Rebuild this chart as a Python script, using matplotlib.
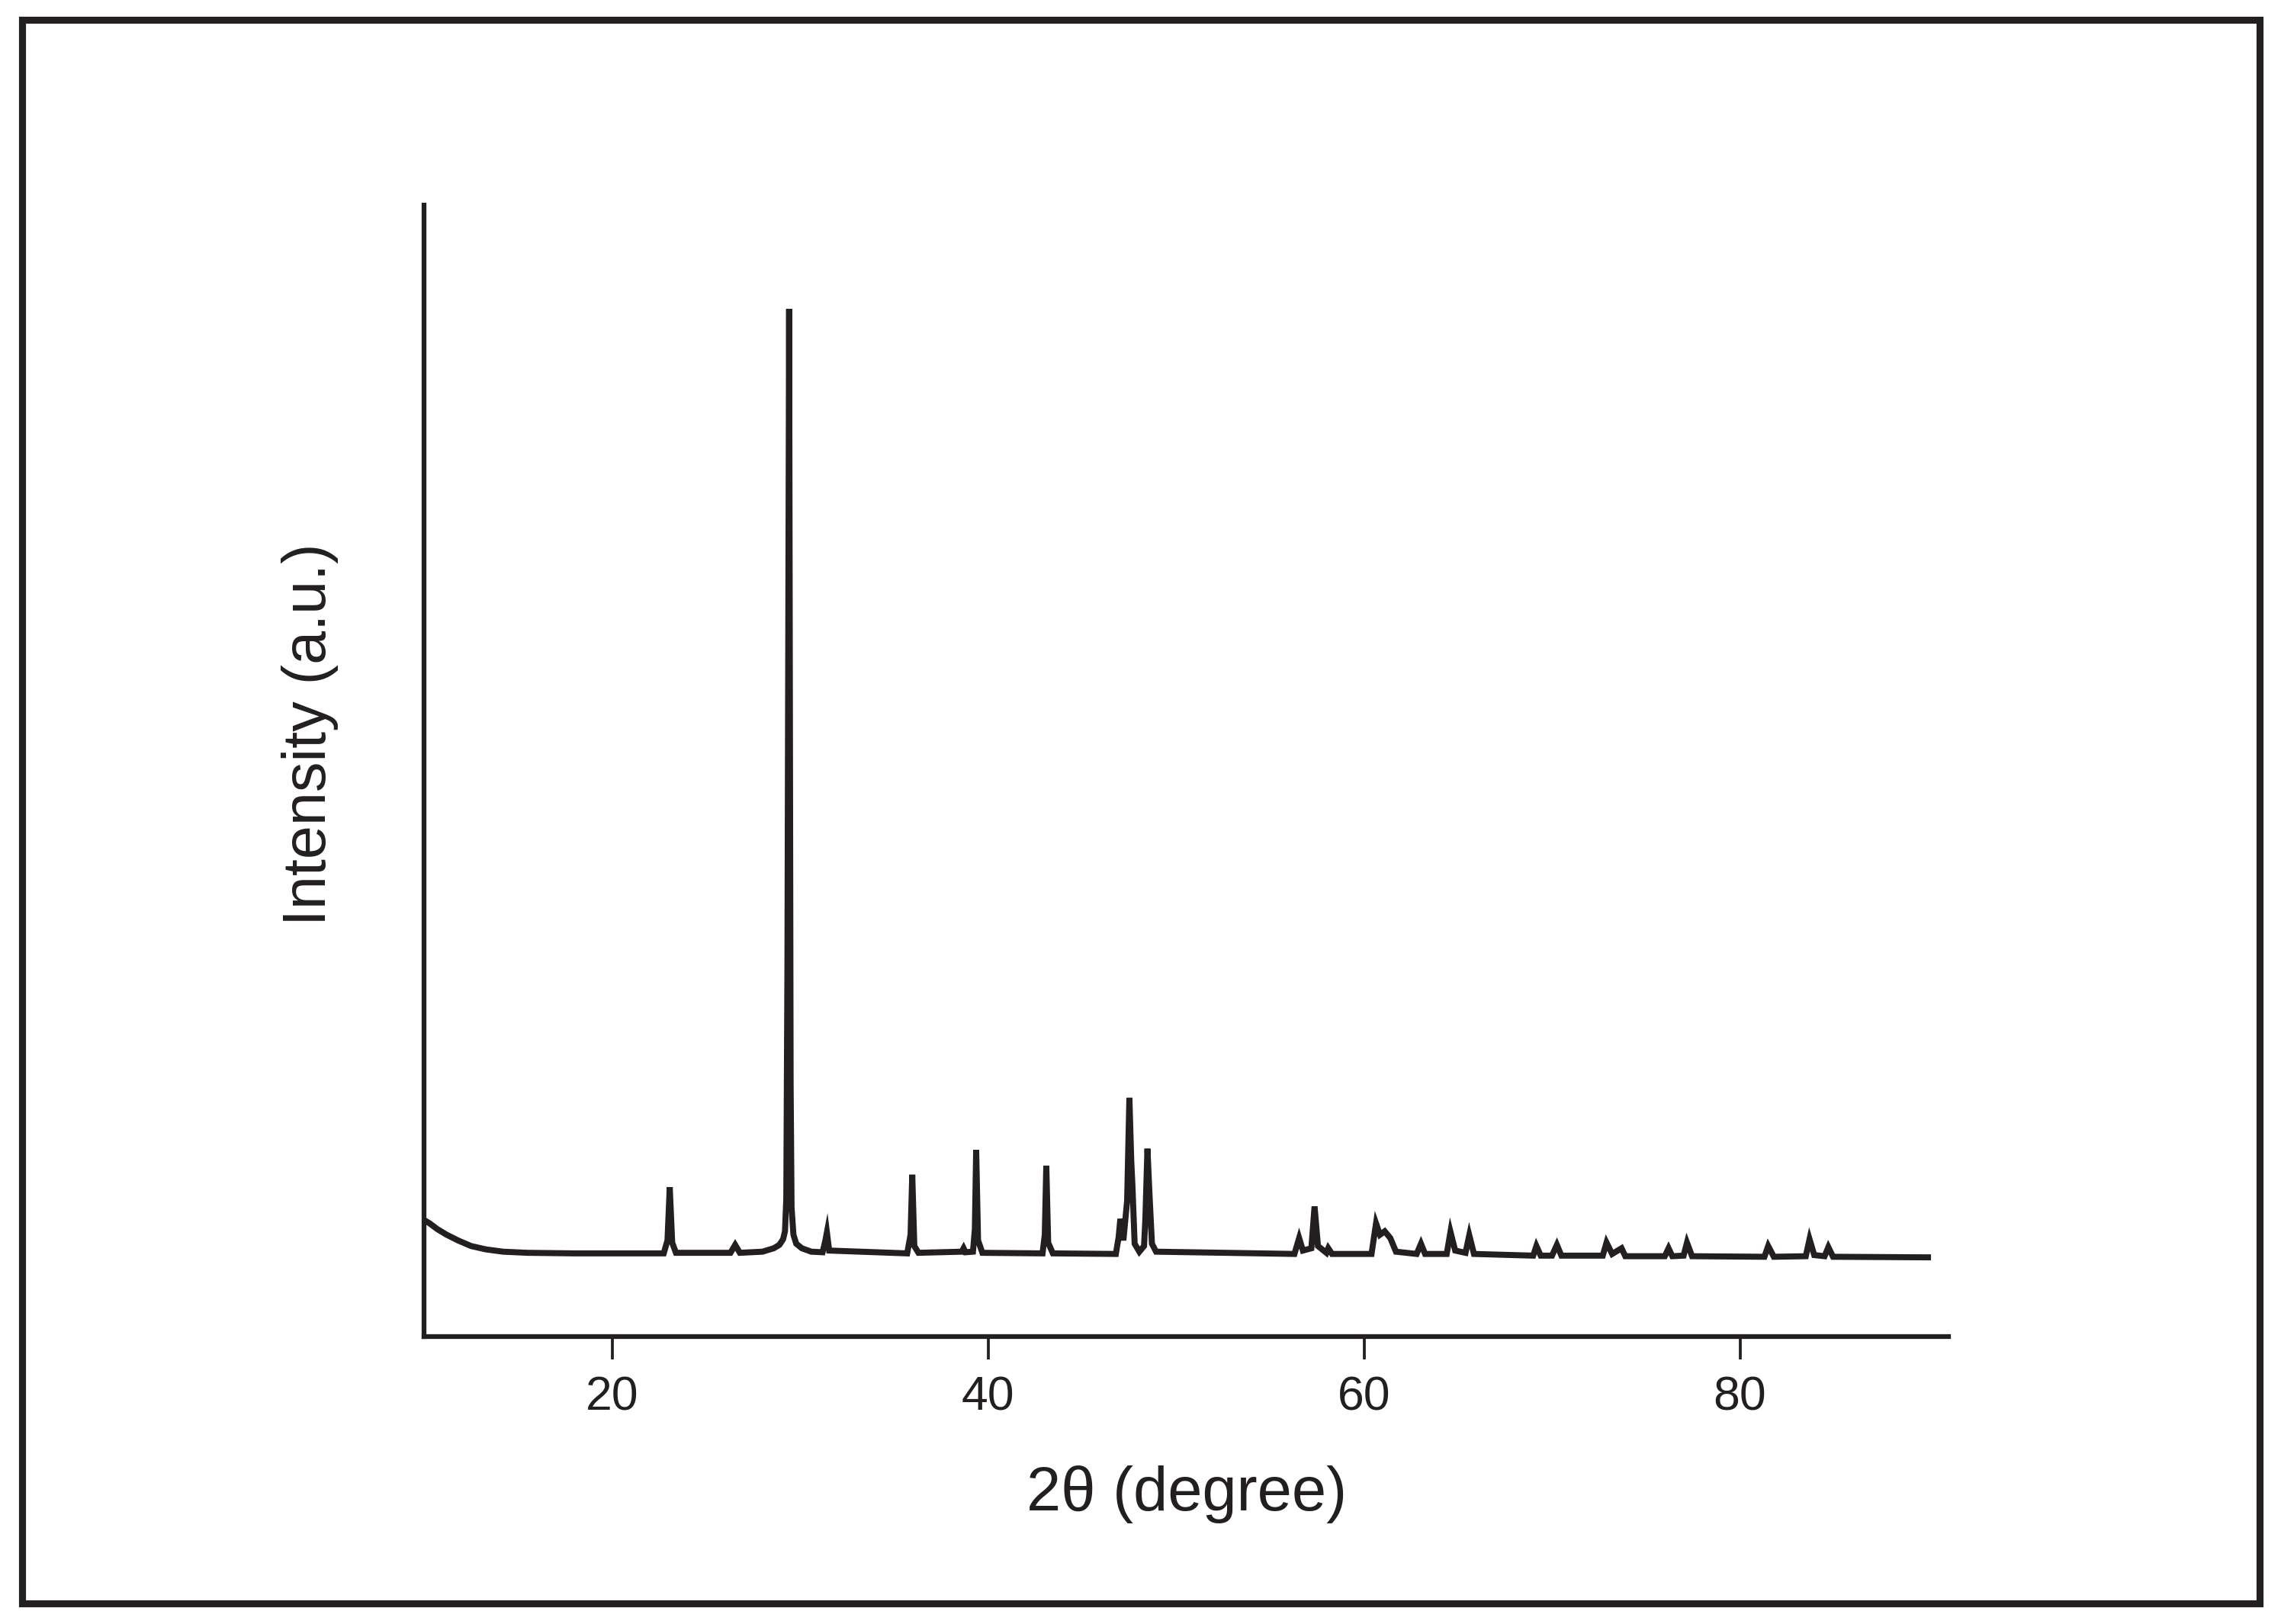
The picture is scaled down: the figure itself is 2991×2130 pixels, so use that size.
"""
XRD pattern: intensity against 2-theta, redrawn from a printed figure.

Peak positions and heights were read off the picture; intensity is in
arbitrary units on a 0-100 scale (the y axis has no tick labels).
"""

import matplotlib.pyplot as plt
from matplotlib.patches import Rectangle

# 2-theta positions (degree) of the points traced along the pattern
two_theta = [
    10.0, 10.3, 10.7, 11.2, 11.8, 12.5, 13.3, 14.2, 15.5, 18.0,
    22.75, 22.95, 23.07, 23.2, 23.4,
    26.3, 26.55, 26.8,
    28.0, 28.6, 28.9, 29.1, 29.2, 29.27, 29.33, 29.42, 29.5, 29.55,
    29.65, 29.8, 30.1, 30.6,
    31.2, 31.35, 31.43, 31.55,
    35.7, 35.88, 35.97, 36.08, 36.3,
    38.6, 38.7, 38.8,
    39.2, 39.3, 39.37, 39.47, 39.7,
    42.9, 43.02, 43.1, 43.2, 43.45,
    46.8, 46.95, 47.04, 47.2, 47.4, 47.52, 47.62, 47.68, 47.8, 48.05,
    48.3, 48.37, 48.48, 48.6, 48.72, 48.94,
    56.3, 56.55, 56.75, 57.2, 57.37, 57.55, 58.0, 58.1, 58.3,
    60.4, 60.64, 60.85, 61.1, 61.4, 61.7,
    62.8, 63.03, 63.25,
    64.4, 64.6, 64.85, 65.4, 65.6, 65.85,
    69.0, 69.17, 69.4, 70.0, 70.26, 70.5,
    72.7, 72.9, 73.2, 73.7, 73.9,
    76.0, 76.2, 76.4, 77.0, 77.18, 77.45,
    81.3, 81.5, 81.8,
    83.5, 83.7, 83.95, 84.5, 84.7, 84.95,
    90.0,
]

# intensity (a.u.) at each of the points above
intensity = [
    10.3, 10.0, 9.5, 9.0, 8.5, 8.0, 7.7, 7.5, 7.4, 7.35,
    7.35, 8.5, 13.2, 8.3, 7.4,
    7.4, 8.1, 7.4,
    7.5, 7.8, 8.1, 8.6, 9.3, 12.2, 32.7, 90.8, 22.4, 11.4,
    9.0, 8.2, 7.8, 7.5,
    7.45, 8.5, 9.2, 7.6,
    7.35, 9.0, 14.3, 8.0, 7.4,
    7.5, 7.8, 7.45,
    7.5, 9.5, 16.5, 8.5, 7.4,
    7.35, 9.0, 15.1, 8.3, 7.35,
    7.3, 8.8, 10.4, 8.5, 12.0, 21.1, 15.5, 13.4, 8.2, 7.5,
    8.0, 10.4, 16.6, 12.2, 8.2, 7.5,
    7.3, 8.7, 7.6, 7.8, 11.5, 8.0, 7.4, 7.8, 7.3,
    7.3, 10.0, 9.0, 9.3, 8.7, 7.5,
    7.3, 8.2, 7.3,
    7.3, 9.25, 7.6, 7.4, 8.95, 7.3,
    7.15, 8.0, 7.15, 7.15, 8.1, 7.15,
    7.15, 8.3, 7.3, 7.8, 7.1,
    7.1, 7.8, 7.1, 7.15, 8.3, 7.1,
    7.05, 8.0, 7.05,
    7.1, 8.6, 7.2, 7.1, 7.9, 7.05,
    7.0,
]

x_ticks = [20, 40, 60, 80]
x_label = "2\u03b8 (degree)"
y_label = "Intensity (a.u.)"

ink = "#231f20"
plt.rcParams["font.family"] = ["Liberation Sans", "DejaVu Sans"]

fig = plt.figure(figsize=(2991 / 300, 2130 / 300), dpi=300)
ax = fig.add_axes([0.1859, 0.1770, 0.6684, 0.6968])

ax.plot(two_theta, intensity, color=ink, linewidth=1.9, solid_joinstyle="miter")

ax.set_xlim(10, 91.1)
ax.set_ylim(0, 100)
ax.set_xticks(x_ticks)
ax.set_yticks([])
ax.tick_params(axis="x", direction="out", length=7.2, width=0.9,
               color=ink, labelcolor=ink, labelsize=15, pad=5)

for side in ("top", "right"):
    ax.spines[side].set_visible(False)
for side in ("left", "bottom"):
    ax.spines[side].set_linewidth(1.5)
    ax.spines[side].set_color(ink)

fig.text(1556 / 2991, 1 - 1960 / 2130, x_label, ha="center", va="center",
         fontsize=19.5, color=ink)
fig.text(406 / 2991, 1 - 963 / 2130, y_label, ha="center", va="center",
         rotation=90, fontsize=19, color=ink)

# frame round the whole figure
fig.patches.append(Rectangle((0.00986, 0.01291), 0.98094, 0.97465,
                             transform=fig.transFigure, fill=False,
                             edgecolor=ink, linewidth=2.2))

fig.savefig("out.png", dpi=300)
